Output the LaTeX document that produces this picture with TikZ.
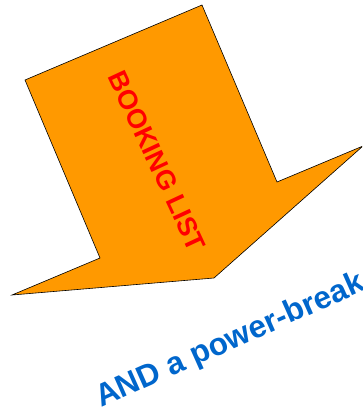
\documentclass[tikz,border=0pt]{standalone}
\usepackage{fontspec}
\setmainfont{Liberation Sans}
\usepackage{xcolor}
\usepackage{tikz}
\usetikzlibrary{positioning}

\definecolor{arroworange}{HTML}{FF9900}
\definecolor{textblue}{HTML}{0066CC}

\begin{document}
\begin{tikzpicture}[
    bigarrow/.style={draw=black, fill=arroworange, line width=0.6pt,
                     line join=miter},
    label/.style={font=\fontsize{27}{30}\selectfont\bfseries,
                  text=red, inner sep=0pt},
    note/.style={font=\fontsize{31.5}{36}\selectfont\bfseries,
                 text=textblue, inner sep=0pt},
    x=1pt, y=-1pt
  ]
  \clip (0,0) rectangle (362,410);

  % the bent arrow
  \draw[bigarrow] (25,80) -- (202,5) -- (277,182) -- (363,146)
    -- (214,278) -- (12,295) -- (100,258) -- cycle;

  \node[label, rotate=-65] (list) at (157,161) {BOOKING LIST};

  % text under the arrow
  \node[note, rotate=24, anchor=base west] (power) at (101,408)
    {AND a power-break};
  \node[note, anchor=base east] (colon) at (3,312) {:};
\end{tikzpicture}
\end{document}
